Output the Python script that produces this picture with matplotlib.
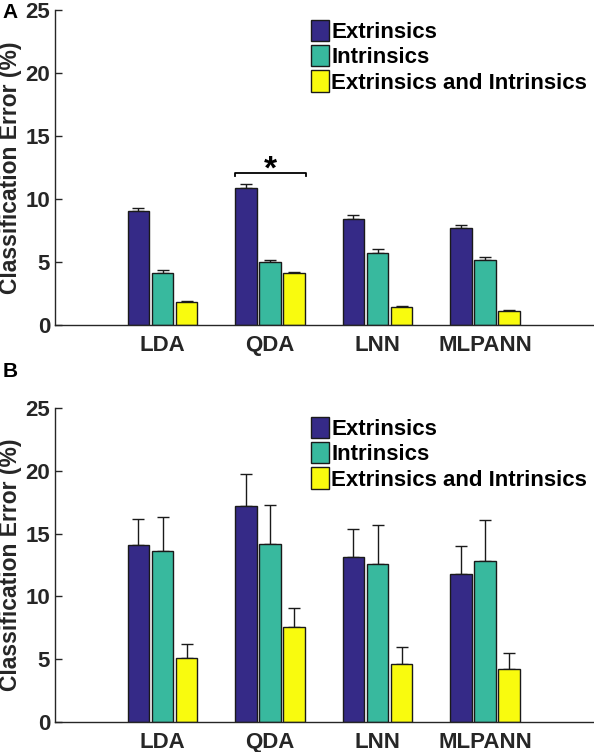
import numpy as np
import matplotlib.pyplot as plt

plt.rcParams['font.family'] = ['Liberation Sans', 'DejaVu Sans']
plt.rcParams['font.weight'] = 'bold'
plt.rcParams['axes.labelweight'] = 'bold'

classifiers = ['LDA', 'QDA', 'LNN', 'MLPANN']
series = ['Extrinsics', 'Intrinsics', 'Extrinsics and Intrinsics']
colors = ['#352a87', '#38b99e', '#f9fb0e']

# panel A: mean and (upper) error
a_ext = [9.05, 10.85, 8.44, 7.67]
a_int = [4.15, 4.97, 5.74, 5.13]
a_both = [1.80, 4.10, 1.40, 1.08]
a_ext_err = [0.25, 0.30, 0.27, 0.24]
a_int_err = [0.20, 0.18, 0.27, 0.24]
a_both_err = [0.07, 0.13, 0.08, 0.08]

# panel B
b_ext = [14.08, 17.2, 13.1, 11.78]
b_int = [13.6, 14.2, 12.57, 12.79]
b_both = [5.08, 7.6, 4.6, 4.2]
b_ext_err = [2.1, 2.5, 2.25, 2.25]
b_int_err = [2.75, 3.1, 3.1, 3.3]
b_both_err = [1.17, 1.5, 1.35, 1.28]

axis_col = '#262626'


def draw_panel(ax, means, errs):
    x = np.arange(1, len(classifiers) + 1)
    width = 0.2
    offsets = [-0.225, 0, 0.225]
    for m, e, c, off, lab in zip(means, errs, colors, offsets, series):
        ax.bar(x + off, m, width, color=c, edgecolor='#1a1a1a',
               linewidth=1, label=lab, zorder=2)
        ax.errorbar(x + off, m, yerr=[np.zeros(len(m)), e], fmt='none',
                    ecolor='#1a1a1a', elinewidth=1, capsize=4, capthick=1,
                    zorder=1)
    ax.set_xlim(0, 5)
    ax.set_ylim(0, 25)
    ax.set_xticks(x)
    ax.set_xticklabels(classifiers)
    ax.set_yticks([0, 5, 10, 15, 20, 25])
    ax.tick_params(axis='y', direction='in', length=5, labelsize=16,
                   colors=axis_col, width=1)
    ax.tick_params(axis='x', length=0, labelsize=16, colors=axis_col, pad=7)
    for s in ['top', 'right']:
        ax.spines[s].set_visible(False)
    for s in ['left', 'bottom']:
        ax.spines[s].set_color(axis_col)
        ax.spines[s].set_linewidth(1)
    ax.set_ylabel('Classification Error (%)', fontsize=16.5, color=axis_col)
    ax.yaxis.set_label_coords(-0.062, 0.5)


fig = plt.figure(figsize=(5.94, 7.52), dpi=100)
ax_a = fig.add_axes([0.0926, 0.5678, 0.905, 0.419])
ax_b = fig.add_axes([0.0926, 0.0395, 0.905, 0.4183])

draw_panel(ax_a, [a_ext, a_int, a_both], [a_ext_err, a_int_err, a_both_err])
draw_panel(ax_b, [b_ext, b_int, b_both], [b_ext_err, b_int_err, b_both_err])

# significance bracket over QDA
ax_a.plot([1.67, 1.67, 2.33, 2.33], [11.8, 12.05, 12.05, 11.8],
          color='black', lw=1.3)
ax_a.text(2.0, 11.1, '*', ha='center', va='bottom', fontsize=24,
          color='black')

for ax, y in [(ax_a, 0.974), (ax_b, 0.446)]:
    ax.legend(loc='upper left', bbox_to_anchor=(0.524, y),
              bbox_transform=fig.transFigure, frameon=False, fontsize=16,
              handlelength=0.8, handleheight=1.1, handletextpad=0.1,
              labelspacing=0.1, borderpad=0, borderaxespad=0)

fig.text(0.005, 0.996, 'A', fontsize=15, va='top', ha='left')
fig.text(0.005, 0.518, 'B', fontsize=15, va='top', ha='left')

fig.savefig('out.png', dpi=100)
